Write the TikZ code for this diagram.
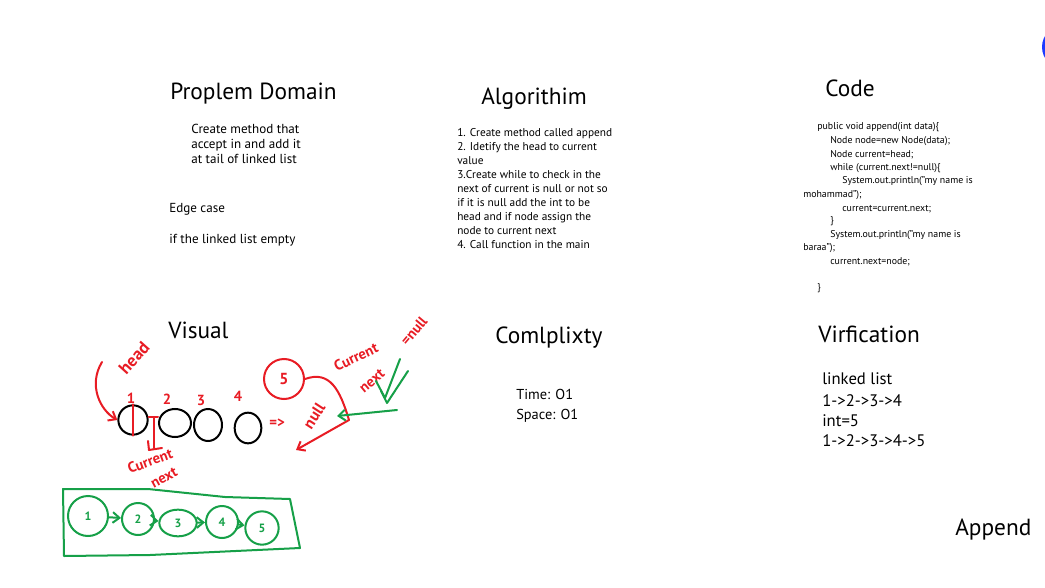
\documentclass[tikz,border=0pt]{standalone}
\usepackage{fontspec}
\setmainfont{PT Sans}
\usetikzlibrary{arrows.meta,shapes.geometric}
\definecolor{inkred}{RGB}{232,28,36}
\definecolor{inkgreen}{RGB}{22,160,72}
\definecolor{inkblue}{RGB}{28,58,255}
\begin{document}
\begin{tikzpicture}[x=0.75pt,y=-0.75pt,
  title/.style={anchor=base west,inner sep=0,font=\fontsize{17.5}{19}\selectfont},
  prose/.style={anchor=north west,inner sep=0,align=left,font=\fontsize{9.8}{11.25}\selectfont},
  algo/.style={anchor=north west,inner sep=0,align=left,font=\fontsize{8.5}{10.5}\selectfont},
  codeline/.style={anchor=base west,inner sep=0,font=\fontsize{7.4}{9}\selectfont},
  verif/.style={anchor=base west,inner sep=0,font=\fontsize{12.5}{14}\selectfont},
  redink/.style={draw=inkred,line width=1.5pt,line cap=round,line join=round},
  greenink/.style={draw=inkgreen,line width=1.5pt,line cap=round,line join=round},
  redword/.style={text=inkred,inner sep=0,font=\fontsize{11}{12}\selectfont\bfseries},
  blackring/.style={draw=black,line width=1.5pt,ellipse,inner sep=0},
  greennode/.style={draw=inkgreen,line width=1.5pt,circle,inner sep=1pt,text=inkgreen,font=\fontsize{9}{10}\selectfont\bfseries},
  tip/.style={-{Straight Barb[length=5pt,width=8pt]}}
]
\useasboundingbox (0,0) rectangle (1045,588);
\fill[white] (0,0) rectangle (1045,588);
\fill[inkblue] (1064,47) circle (22);

% ---------- Problem domain ----------
\node[title] (tpd) at (170,100) {Proplem Domain};
\node[prose] (pd) at (191,124) {Create method that\\accept in and add it\\at tail of linked list};
\node[prose] (edge) at (169,203) {Edge case};
\node[prose] (empty) at (169,234) {if the linked list empty};

% ---------- Algorithm ----------
\node[title] (talg) at (481,105) {Algorithim};
\node[algo] (alg) at (457,128) {1. Create method called append\\2. Idetify the head to current\\value\\3.Create while to check in the\\next of current is null or not so\\if it is null add the int to be\\head and if node assign the\\node to current next\\4. Call function in the main};

% ---------- Code ----------
\node[title] (tcode) at (825,97) {Code};
\node[codeline] (c1) at (817,130) {public void append(int data)\{};
\node[codeline] (c2) at (830,144) {Node node=new Node(data);};
\node[codeline] (c3) at (830,157) {Node current=head;};
\node[codeline] (c4) at (830,171) {while (current.next!=null)\{};
\node[codeline] (c5) at (842,184) {System.out.println("my name is};
\node[codeline] (c6) at (803,197) {mohammad");};
\node[codeline] (c7) at (842,211) {current=current.next;};
\node[codeline] (c8) at (830,223) {\}};
\node[codeline] (c9) at (830,237) {System.out.println("my name is};
\node[codeline] (c10) at (803,250) {baraa");};
\node[codeline] (c11) at (830,264) {current.next=node;};
\node[codeline] (c12) at (817,290) {\}};

% ---------- Visual ----------
\node[title] (tvis) at (168,338) {Visual};

% ---------- Complexity ----------
\node[title] (tcx) at (495,343) {Comlplixty};
\node[anchor=base west,inner sep=0,font=\fontsize{10.8}{12}\selectfont] (time) at (516,399) {Time: O1};
\node[anchor=base west,inner sep=0,font=\fontsize{10.8}{12}\selectfont] (space) at (516,419) {Space: O1};

% ---------- Verification ----------
\node[title] (tver) at (818,342) {Virfication};
\node[verif] (v1) at (822,384) {linked list};
\node[verif] (v2) at (822,406) {1->2->3->4};
\node[verif] (v3) at (822,426) {int=5};
\node[verif] (v4) at (822,446) {1->2->3->4->5};

\node[title] (tapp) at (955,535) {Append};

% ---------- Visual sketch: black list ----------
\node[blackring,minimum width=22,minimum height=22] (b1) at (133,420) {};
\node[blackring,minimum width=24,minimum height=21] (b2) at (175,423) {};
\node[blackring,minimum width=21,minimum height=24] (b3) at (208,425) {};
\node[blackring,minimum width=20,minimum height=23] (b4) at (248,428) {};

\node[redword] (l1) at (131,398) {1};
\node[redword] (l2) at (167,399) {2};
\node[redword] (l3) at (201,400) {3};
\node[redword] (l4) at (238,396) {4};

% head label and pointer
\node[redword,rotate=48,font=\fontsize{13}{14}\selectfont\bfseries] (head) at (134,358) {head};
\coordinate (hs) at (102,362);
\draw[redink,tip] (hs) .. controls (88,385) and (100,410) .. (b1.west);
\draw[redink] (b1.north) -- (b1.south);
% current.next link
\coordinate (lk) at (154,417);
\draw[redink] (b1.east |- lk) -- (b2.west |- lk);
\coordinate (ld) at (154,448);
\draw[redink] (lk) -- (ld);
\draw[redink] (148,441) -- (149,450) -- (162,448);
\node[redword,rotate=20] (cur1) at (150,461) {Current};
\node[redword,rotate=28] (nx1) at (164,478) {next};

% null after list
\node[redword] (arr) at (277,423) {=>};
\node[redword,rotate=57,font=\fontsize{12}{13}\selectfont\bfseries] (null1) at (314,416) {null};

% new node 5
\node[draw=inkred,line width=1.5pt,circle,minimum size=30,inner sep=0,text=inkred,font=\fontsize{12}{13}\selectfont\bfseries] (r5) at (284,379) {5};
\coordinate (rb) at (349,420);
\coordinate (re) at (296,450);
\draw[redink] (r5.east) .. controls (330,370) and (340,390) .. (rb);
\draw[redink,tip] (rb) -- (re);
\node[redword,rotate=25] (cur2) at (356,357) {Current};
\node[redword,rotate=40] (nx2) at (372,381) {next};
\node[redword,rotate=50] (eqn) at (414,331) {=null};

% green check and arrow
\draw[greenink] (376,381) -- (385,398) -- (400,359);
\draw[greenink] (381,391) -- (387,403) -- (408,371);
\coordinate (gs) at (397,410);
\coordinate (ge) at (337,416);
\draw[greenink,tip] (gs) -- (ge);

% ---------- green final list ----------
\draw[greenink] (63,489) -- (148,489) -- (225,497) -- (290,499) -- (300,548) -- (150,555) -- (64,556) -- cycle;
\node[greennode,minimum width=30,minimum height=24] (g1) at (88,516) {1};
\node[greennode,minimum size=24] (g2) at (138,519) {2};
\node[greennode,minimum width=28,minimum height=20,ellipse] (g3) at (178,523) {3};
\node[greennode,minimum size=24] (g4) at (222,522) {4};
\node[greennode,minimum size=25] (g5) at (262,528) {5};
\draw[greenink,tip] (g1) -- (g2);
\draw[greenink,tip] (g2) -- (g3);
\draw[greenink,tip] (g3) -- (g4);
\draw[greenink,tip] (g4) -- (g5);
\end{tikzpicture}
\end{document}
